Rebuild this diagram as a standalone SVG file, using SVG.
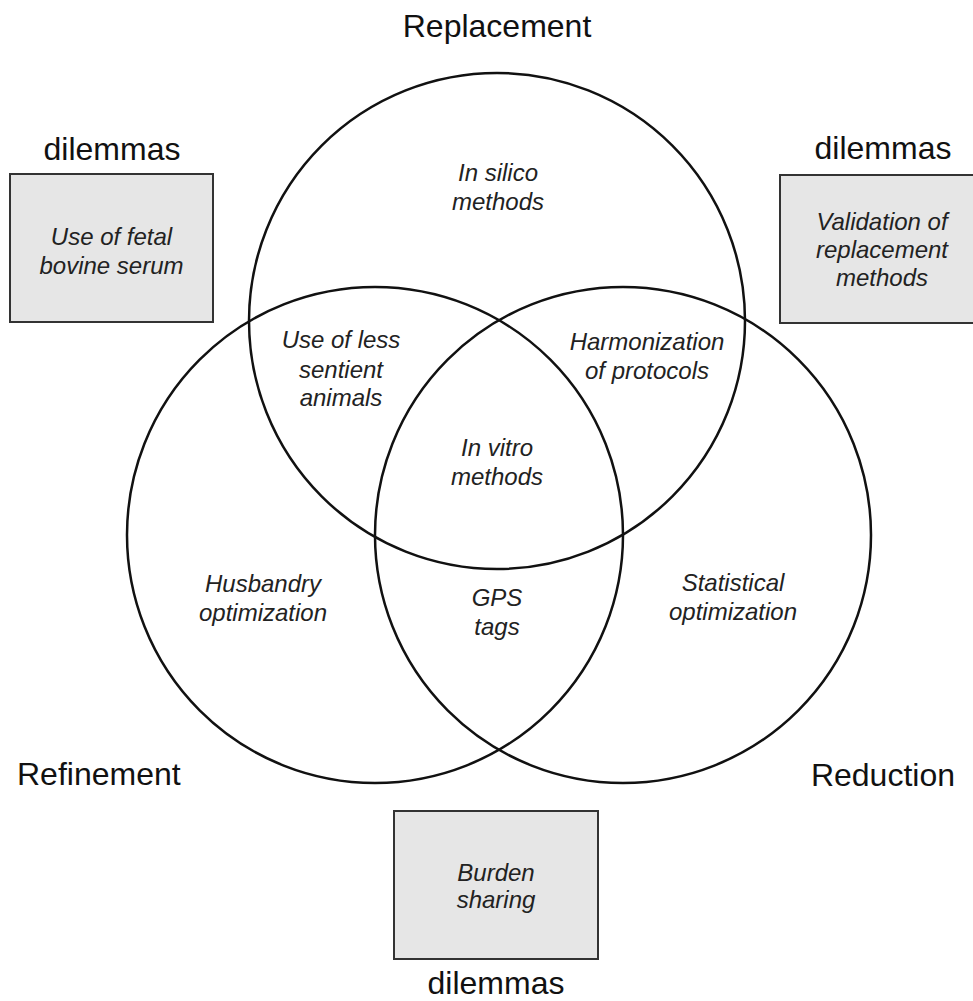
<svg xmlns="http://www.w3.org/2000/svg" width="973" height="1001" viewBox="0 0 973 1001">
<style>
.bg{fill:#ffffff}
.circ{fill:none;stroke:#111;stroke-width:2.5}
.box{fill:#e6e6e6;stroke:#333;stroke-width:2}
.title{font-family:"Liberation Sans",Arial,sans-serif;font-size:32px;fill:#111}
.lbl{font-family:"Liberation Sans",Arial,sans-serif;font-size:24px;font-style:italic;fill:#222;text-anchor:middle}
</style>
<rect class="bg" x="0" y="0" width="973" height="1001"/>
<g id="connectors">
<circle id="replacement-circle" class="circ" cx="497" cy="321" r="248"/>
<circle id="refinement-circle" class="circ" cx="375" cy="535" r="248"/>
<circle id="reduction-circle" class="circ" cx="623" cy="535" r="248"/>
</g>
<g id="title-replacement"><text class="title" x="497" y="37" text-anchor="middle">Replacement</text></g>
<g id="title-refinement"><text class="title" x="17" y="785">Refinement</text></g>
<g id="title-reduction"><text class="title" x="955" y="786" text-anchor="end">Reduction</text></g>
<g id="dilemma-left">
<text class="title" x="112" y="160" text-anchor="middle">dilemmas</text>
<rect class="box" x="10" y="174" width="203" height="148"/>
<text class="lbl" x="111.5" y="245">Use of fetal</text>
<text class="lbl" x="111.5" y="274">bovine serum</text>
</g>
<g id="dilemma-right">
<text class="title" x="883" y="159" text-anchor="middle">dilemmas</text>
<rect class="box" x="780" y="175" width="203" height="148"/>
<text class="lbl" x="882" y="230">Validation of</text>
<text class="lbl" x="882" y="258">replacement</text>
<text class="lbl" x="882" y="286">methods</text>
</g>
<g id="dilemma-bottom">
<rect class="box" x="394" y="811" width="204" height="148"/>
<text class="lbl" x="496" y="881">Burden</text>
<text class="lbl" x="496" y="908">sharing</text>
<text class="title" x="496" y="994" text-anchor="middle">dilemmas</text>
</g>
<g id="in-silico">
<text class="lbl" x="498" y="181">In silico</text>
<text class="lbl" x="498" y="210">methods</text>
</g>
<g id="less-sentient">
<text class="lbl" x="341" y="348">Use of less</text>
<text class="lbl" x="341" y="378">sentient</text>
<text class="lbl" x="341" y="406">animals</text>
</g>
<g id="harmonization">
<text class="lbl" x="647" y="350">Harmonization</text>
<text class="lbl" x="647" y="379">of protocols</text>
</g>
<g id="in-vitro">
<text class="lbl" x="497" y="456">In vitro</text>
<text class="lbl" x="497" y="485">methods</text>
</g>
<g id="husbandry">
<text class="lbl" x="263" y="592">Husbandry</text>
<text class="lbl" x="263" y="621">optimization</text>
</g>
<g id="gps">
<text class="lbl" x="497" y="606">GPS</text>
<text class="lbl" x="497" y="635">tags</text>
</g>
<g id="statistical">
<text class="lbl" x="733" y="591">Statistical</text>
<text class="lbl" x="733" y="620">optimization</text>
</g>
</svg>
